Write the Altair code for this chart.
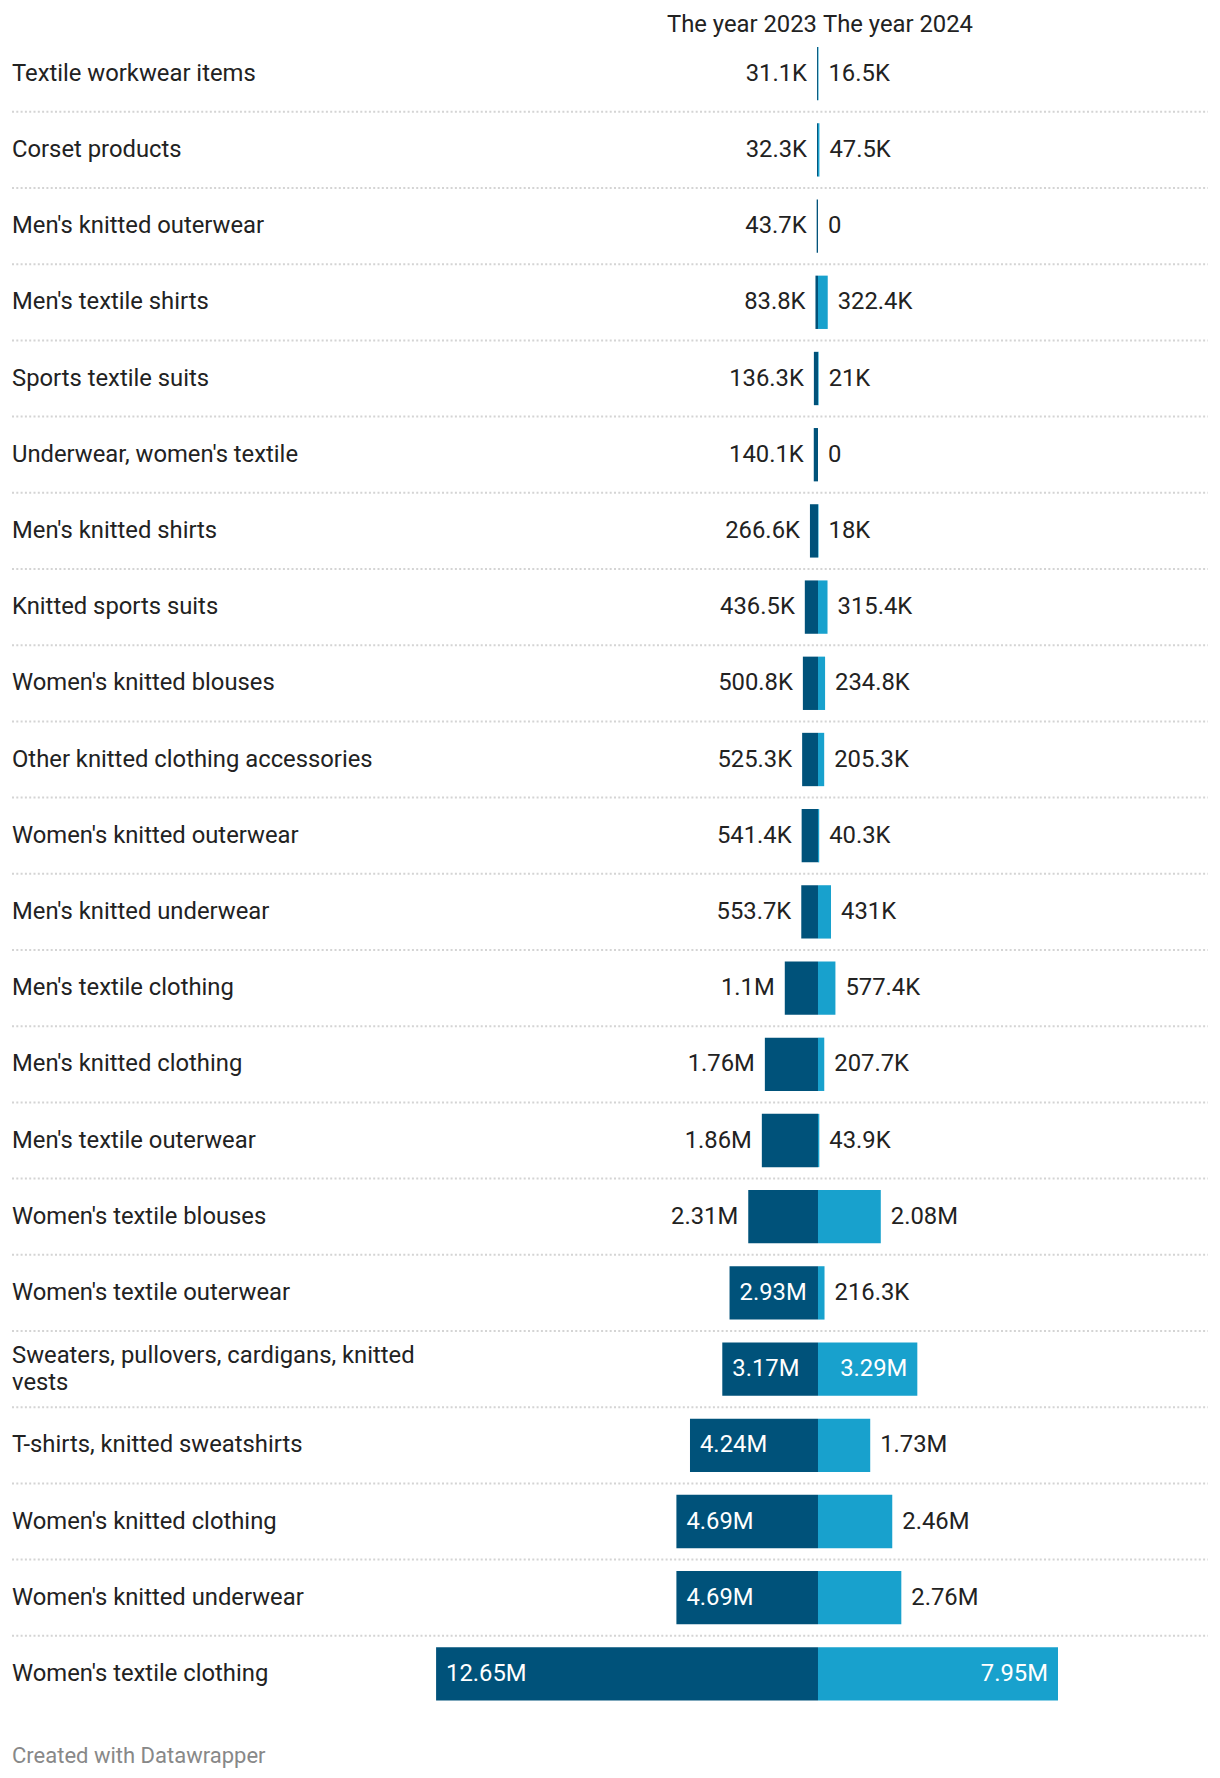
import altair as alt
import pandas as pd

categories = [
    "Textile workwear items",
    "Corset products",
    "Men's knitted outerwear",
    "Men's textile shirts",
    "Sports textile suits",
    "Underwear, women's textile",
    "Men's knitted shirts",
    "Knitted sports suits",
    "Women's knitted blouses",
    "Other knitted clothing accessories",
    "Women's knitted outerwear",
    "Men's knitted underwear",
    "Men's textile clothing",
    "Men's knitted clothing",
    "Men's textile outerwear",
    "Women's textile blouses",
    "Women's textile outerwear",
    "Sweaters, pullovers, cardigans, knitted\nvests",
    "T-shirts, knitted sweatshirts",
    "Women's knitted clothing",
    "Women's knitted underwear",
    "Women's textile clothing",
]
values_2023 = [31100, 32300, 43700, 83800, 136300, 140100, 266600, 436500, 500800,
               525300, 541400, 553700, 1100000, 1760000, 1860000, 2310000, 2930000,
               3170000, 4240000, 4690000, 4690000, 12650000]
values_2024 = [16500, 47500, 0, 322400, 21000, 0, 18000, 315400, 234800,
               205300, 40300, 431000, 577400, 207700, 43900, 2080000, 216300,
               3290000, 1730000, 2460000, 2760000, 7950000]
labels_2023 = ["31.1K", "32.3K", "43.7K", "83.8K", "136.3K", "140.1K", "266.6K", "436.5K",
               "500.8K", "525.3K", "541.4K", "553.7K", "1.1M", "1.76M", "1.86M", "2.31M",
               "2.93M", "3.17M", "4.24M", "4.69M", "4.69M", "12.65M"]
labels_2024 = ["16.5K", "47.5K", "0", "322.4K", "21K", "0", "18K", "315.4K", "234.8K",
               "205.3K", "40.3K", "431K", "577.4K", "207.7K", "43.9K", "2.08M", "216.3K",
               "3.29M", "1.73M", "2.46M", "2.76M", "7.95M"]
headers = ["The year 2023", "The year 2024"]
footer = "Created with Datawrapper"

DARK = "#00527a"
LIGHT = "#18a1cd"
TEXT = "#222222"
FONT = "Roboto"
FS = 23.8

df = pd.DataFrame({
    "cat": categories,
    "v23": values_2023,
    "v24": values_2024,
    "l23": labels_2023,
    "l24": labels_2024,
    "idx": list(range(len(categories))),
})

ROW_STEP = 76.2
N = len(categories)
PLOT_H = N * ROW_STEP
TOP = 35.6

xscale = alt.Scale(domain=[-27.095e6, 13.316e6], nice=False, zero=False)
yenc = alt.Y("cat:N", sort=categories, axis=None,
             scale=alt.Scale(paddingInner=0.3, paddingOuter=0.15))

base = alt.Chart(df).transform_calculate(
    neg23="-datum.v23", zero="0",
    in23="datum.v23 >= 2900000", in24="datum.v24 >= 2900000",
    multi="indexof(datum.cat, '\\n') >= 0",
)

seps = base.transform_filter(f"datum.idx < {N - 1}").mark_rule(
    color="#d4d4d4", strokeWidth=2, strokeDash=[2, 2.3], yOffset=ROW_STEP / 2
).encode(y=yenc, x=alt.value(12), x2=alt.value(1208))

bar23 = base.mark_bar(color=DARK).encode(
    x=alt.X("neg23:Q", scale=xscale, axis=None), x2="zero:Q", y=yenc)
bar24 = base.mark_bar(color=LIGHT).encode(
    x=alt.X("zero:Q", scale=xscale, axis=None), x2="v24:Q", y=yenc)

def txt(filt, field, xfield, align, dx, color):
    return base.transform_filter(filt).mark_text(
        align=align, baseline="middle", dx=dx, font=FONT, fontSize=FS, color=color
    ).encode(x=alt.X(f"{xfield}:Q", scale=xscale, axis=None), y=yenc, text=f"{field}:N")

t23_out = txt("!datum.in23", "l23", "neg23", "right", -10, TEXT)
t23_in = txt("datum.in23", "l23", "neg23", "left", 10, "white")
t24_out = txt("!datum.in24", "l24", "v24", "left", 10, TEXT)
t24_in = txt("datum.in24", "l24", "v24", "right", -10, "white")

cat_single = base.transform_filter("!datum.multi").mark_text(
    align="left", baseline="middle", font=FONT, fontSize=FS, color=TEXT
).encode(x=alt.value(12), y=yenc, text="cat:N")
cat_multi = base.transform_filter("datum.multi").mark_text(
    align="left", baseline="middle", font=FONT, fontSize=FS, color=TEXT,
    lineBreak="\n", lineHeight=27, dy=-13.5
).encode(x=alt.value(12), y=yenc, text="cat:N")

hdf = pd.DataFrame({"h": headers, "zero": [0, 0]})
h1 = alt.Chart(hdf).transform_filter("datum.h == 'The year 2023'").mark_text(
    align="right", baseline="middle", dx=-1, font=FONT, fontSize=FS, color=TEXT
).encode(x=alt.X("zero:Q", scale=xscale, axis=None), y=alt.value(-11), text="h:N")
h2 = alt.Chart(hdf).transform_filter("datum.h == 'The year 2024'").mark_text(
    align="left", baseline="middle", dx=5, font=FONT, fontSize=FS, color=TEXT
).encode(x=alt.X("zero:Q", scale=xscale, axis=None), y=alt.value(-11), text="h:N")

foot = alt.Chart(pd.DataFrame({"f": [footer]})).mark_text(
    align="left", baseline="middle", font=FONT, fontSize=22, color="#888888"
).encode(x=alt.value(12), y=alt.value(1756 - TOP), text="f:N")

chart = alt.layer(
    seps, bar23, bar24, t23_out, t23_in, t24_out, t24_in, cat_single, cat_multi, h1, h2, foot
).properties(
    width=1220, height=PLOT_H, autosize="none",
    padding={"top": TOP, "left": 0, "right": 0, "bottom": 1778 - TOP - PLOT_H},
    background="white",
).configure_view(stroke=None)

chart.save("out.html", embed_options={"renderer": "svg", "actions": False})
